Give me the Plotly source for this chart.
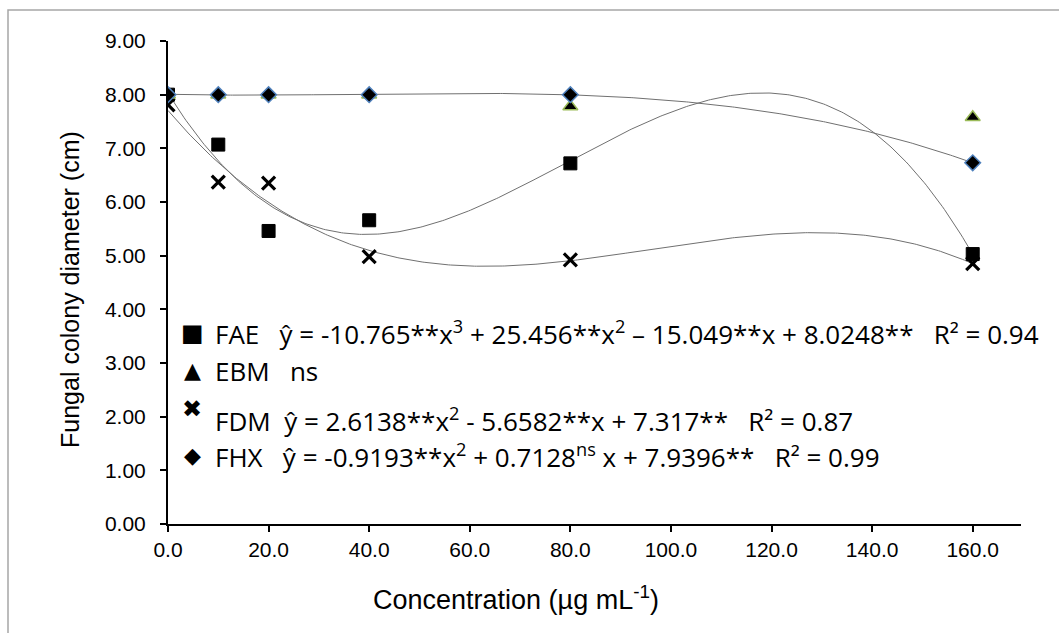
import numpy as np
import plotly.graph_objects as go

# ---- data ----
conc = [0, 10, 20, 40, 80, 160]
fae = [8.00, 7.07, 5.46, 5.66, 6.72, 5.03]
ebm = [8.00, 8.00, 8.00, 8.00, 7.78, 7.58]
fdm = [7.81, 6.37, 6.35, 4.98, 4.92, 4.85]
fhx = [8.00, 8.00, 8.00, 8.00, 8.00, 6.73]

x_ticks = [0, 20, 40, 60, 80, 100, 120, 140, 160]
y_ticks = [0, 1, 2, 3, 4, 5, 6, 7, 8, 9]

legend_labels = [
    "FAE\u00a0\u00a0\u00a0ŷ = -10.765**x<sup>3</sup> + 25.456**x<sup>2</sup> \u2013 15.049**x + 8.0248**\u00a0\u00a0\u00a0R² = 0.94",
    "EBM\u00a0\u00a0\u00a0ns",
    "FDM\u00a0\u00a0ŷ = 2.6138**x<sup>2</sup> - 5.6582**x + 7.317**\u00a0\u00a0\u00a0R² = 0.87",
    "FHX\u00a0\u00a0\u00a0ŷ = -0.9193**x<sup>2</sup> + 0.7128<sup>ns</sup> x + 7.9396**\u00a0\u00a0\u00a0R² = 0.99",
]
legend_glyphs = ["\u25A0", "\u25B2", "\u2716", "\u25C6"]

W, H = 1059, 633
L, R, T, B = 168, 38, 41, 109
PW, PH = W - L - R, H - T - B


def px(x):
    return (x - L) / PW


def py(y):
    return (H - B - y) / PH


fig = go.Figure()

# trend lines (least-squares cubic fit of each series, as in the spreadsheet)
xs = np.linspace(0, 160, 400)
for series in (fae, fdm, fhx):
    coef = np.polyfit(np.array(conc) / 100.0, series, 3)
    fig.add_trace(go.Scatter(x=xs, y=np.polyval(coef, xs / 100.0), mode="lines",
                             line=dict(color="#707070", width=1), showlegend=False,
                             hoverinfo="skip"))

fig.add_trace(go.Scatter(x=conc, y=fdm, mode="markers", name="FDM", showlegend=False,
                         marker=dict(symbol="x-thin", size=13, color="black",
                                     line=dict(color="black", width=3.2))))
fig.add_trace(go.Scatter(x=conc, y=fae, mode="markers", name="FAE", showlegend=False,
                         marker=dict(symbol="square", size=13, color="black",
                                     line=dict(color="black", width=1))))
fig.add_trace(go.Scatter(x=conc, y=ebm, mode="markers", name="EBM", showlegend=False,
                         marker=dict(symbol="triangle-up", size=13, color="black",
                                     line=dict(color="#9bbb59", width=1.5))))
fig.add_trace(go.Scatter(x=conc, y=fhx, mode="markers", name="FHX", showlegend=False,
                         marker=dict(symbol="diamond", size=12, color="black",
                                     line=dict(color="#4f81bd", width=1.5))))

annotations = []
text_y = [333, 371, 420, 456]
glyph_y = [333, 370, 409, 455]
glyph_sizes = [24, 22, 24, 22]
for lab, gl, ty, gy, gs in zip(legend_labels, legend_glyphs, text_y, glyph_y, glyph_sizes):
    annotations.append(dict(xref="paper", yref="paper", x=px(213), y=py(ty), text=lab,
                            showarrow=False, xanchor="left", yanchor="middle",
                            font=dict(family="Open Sans", size=26, color="black")))
    annotations.append(dict(xref="paper", yref="paper", x=px(192), y=py(gy), text=gl,
                            showarrow=False, xanchor="center", yanchor="middle",
                            font=dict(family="DejaVu Sans", size=gs, color="black")))

annotations.append(dict(xref="paper", yref="paper", x=px(516), y=py(598),
                        text="Concentration (µg mL<sup>-1</sup>)", showarrow=False,
                        xanchor="center", yanchor="middle",
                        font=dict(family="Liberation Sans, Arial", size=27, color="black")))
annotations.append(dict(xref="paper", yref="paper", x=px(70), y=py(290),
                        text="Fungal colony diameter (cm)", showarrow=False, textangle=-90,
                        xanchor="center", yanchor="middle",
                        font=dict(family="Liberation Sans, Arial", size=25, color="black")))

fig.update_layout(
    width=W, height=H,
    margin=dict(l=L, r=R, t=T, b=B, pad=0),
    paper_bgcolor="white", plot_bgcolor="white",
    showlegend=False,
    annotations=annotations,
    shapes=[dict(type="rect", xref="paper", yref="paper",
                 x0=px(8), x1=px(1080), y0=py(10), y1=py(660),
                 line=dict(color="#a6a6a6", width=1.5), layer="below")],
    font=dict(family="Liberation Sans, Arial", color="black"),
)
fig.update_xaxes(range=[0, 169.6], tickvals=x_ticks, tickformat=".1f",
                 showgrid=False, zeroline=False, showline=True, linecolor="black", linewidth=2,
                 ticks="outside", ticklen=6, tickwidth=1.5, tickcolor="black",
                 tickfont=dict(size=21, family="Liberation Sans, Arial", color="black"))
fig.update_yaxes(range=[0, 9], tickvals=y_ticks, tickformat=".2f",
                 showgrid=False, zeroline=False, showline=True, linecolor="black", linewidth=2,
                 ticks="outside", ticklen=6, tickwidth=1.5, tickcolor="black",
                 ticklabelstandoff=10,
                 tickfont=dict(size=21, family="Liberation Sans, Arial", color="black"))

fig.write_html("out.html", config={"displayModeBar": False},
               post_script="document.body.style.margin='0';")
